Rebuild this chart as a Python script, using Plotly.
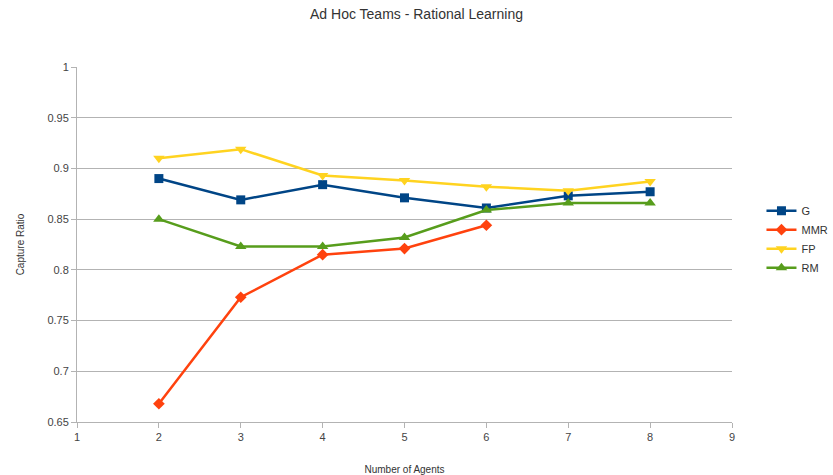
import plotly.graph_objects as go

agents = [2, 3, 4, 5, 6, 7, 8]
g_vals = [0.890, 0.869, 0.884, 0.871, 0.861, 0.873, 0.877]
mmr_agents = [2, 3, 4, 5, 6]
mmr_vals = [0.668, 0.773, 0.815, 0.821, 0.844]
fp_vals = [0.910, 0.919, 0.893, 0.888, 0.882, 0.878, 0.887]
rm_vals = [0.850, 0.823, 0.823, 0.832, 0.859, 0.866, 0.866]

x_ticks = [1, 2, 3, 4, 5, 6, 7, 8, 9]
y_ticks = [0.65, 0.7, 0.75, 0.8, 0.85, 0.9, 0.95, 1]
y_tick_text = ["0.65", "0.7", "0.75", "0.8", "0.85", "0.9", "0.95", "1"]

series = [
    ("G", agents, g_vals, "#004586", "square", 9),
    ("MMR", mmr_agents, mmr_vals, "#ff420e", "diamond", 9),
    ("FP", agents, fp_vals, "#ffd320", "triangle-down", 10),
    ("RM", agents, rm_vals, "#579d1c", "triangle-up", 10),
]

fig = go.Figure()
for name, xs, ys, color, symbol, size in series:
    fig.add_trace(go.Scatter(
        x=xs, y=ys, name=name, mode="lines+markers",
        line=dict(color=color, width=2.5),
        marker=dict(symbol=symbol, size=size, color=color),
    ))

font_family = "Liberation Sans, Arial, sans-serif"
fig.update_layout(
    width=833, height=475,
    margin=dict(l=77, r=101, t=67, b=53, autoexpand=False),
    paper_bgcolor="white", plot_bgcolor="white",
    title=dict(text="Ad Hoc Teams - Rational Learning", x=0.5, xanchor="center",
               y=0.98, yanchor="top",
               font=dict(family=font_family, size=14, color="#333333")),
    font=dict(family=font_family, color="#444444"),
    legend=dict(x=1.045, y=0.515, xanchor="left", yanchor="middle",
                font=dict(family=font_family, size=11, color="#333333"),
                bgcolor="rgba(0,0,0,0)", itemwidth=30, tracegroupgap=0),
    xaxis=dict(
        range=[1, 9], tickvals=x_ticks, showgrid=False, automargin=False,
        showline=True, linecolor="#b3b3b3", linewidth=1,
        ticks="outside", ticklen=5, tickcolor="#b3b3b3",
        tickfont=dict(size=11, color="#444444"), zeroline=False,
        title=dict(text="Number of Agents", font=dict(size=10, color="#333333"), standoff=24),
    ),
    yaxis=dict(
        range=[0.65, 1], tickvals=y_ticks, ticktext=y_tick_text,
        showgrid=True, gridcolor="#b3b3b3", gridwidth=1, automargin=False,
        showline=True, linecolor="#b3b3b3", linewidth=1,
        ticks="outside", ticklen=5, tickcolor="#b3b3b3",
        tickfont=dict(size=11, color="#444444"), zeroline=False,
        title=dict(text="Capture Ratio", font=dict(size=10, color="#333333"), standoff=20),
    ),
)

fig.write_html("out.html")
